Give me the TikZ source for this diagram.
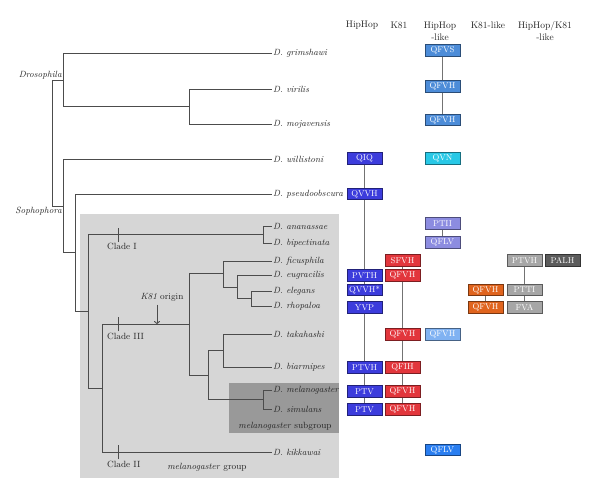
\documentclass[tikz,border=0pt]{standalone}
\usetikzlibrary{arrows.meta}

\definecolor{hhblue}{HTML}{3C3CDC}
\definecolor{kred}{HTML}{E2363C}
\definecolor{steel}{HTML}{4C8CD8}
\definecolor{cyanish}{HTML}{28C8E6}
\definecolor{lav}{HTML}{8C8CE0}
\definecolor{skyish}{HTML}{80B2F2}
\definecolor{azure}{HTML}{2A7EF0}
\definecolor{orng}{HTML}{E0641E}
\definecolor{gry}{HTML}{A6A6A6}
\definecolor{dgry}{HTML}{5C5C5C}

\begin{document}
\begin{tikzpicture}[x=1pt, y=-1pt, font=\fontsize{9}{11}\selectfont,
  branch/.style={draw=black!70, line width=0.9pt},
  leaf/.style={anchor=west, inner sep=1pt, text=black!85,
    font=\fontsize{9}{11}\selectfont\itshape},
  head/.style={align=center, text=black!85, font=\fontsize{9.5}{12}\selectfont},
  seqbox/.style={draw=#1!55!black, fill=#1, text=white, line width=0.6pt,
    minimum width=35pt, minimum height=11.5pt, inner sep=0pt,
    font=\fontsize{8.5}{10}\selectfont},
  link/.style={draw=black!55, line width=0.8pt}]
  \useasboundingbox (0,0) rectangle (600,498);
  \fill[black!16] (80,214) rectangle (339,478);
  \fill[black!40] (229,383) rectangle (339,433);

  \foreach \n/\y/\t in {grim/53/grimshawi, viri/89/virilis, moja/124/mojavensis,
      will/159/willistoni, pseu/194/pseudoobscura, anan/226/ananassae,
      bipe/243/bipectinata, ficu/261/ficusphila, eugr/275/eugracilis,
      eleg/291/elegans, rhop/306/rhopaloa, taka/334/takahashi,
      biar/367/biarmipes, mela/390/melanogaster, simu/409/simulans,
      kikk/452/kikkawai}
    \node[leaf] (\n) at (272,\y) {D. \t};

  \coordinate (root) at (52,143);
  \coordinate (droso) at (63,80);
  \coordinate (virmoj) at (189,106.5);
  \coordinate (sopho) at (63,206);
  \coordinate (pseunode) at (75,252.5);
  \coordinate (melgrp) at (88,311);
  \coordinate (cladeI) at (263,234.5);
  \coordinate (clade23) at (102,388);
  \coordinate (clade3) at (189,324);
  \coordinate (sub1) at (223,273.5);
  \coordinate (sub1b) at (237,287);
  \coordinate (sub1c) at (251,298.5);
  \coordinate (sub2) at (208,375);
  \coordinate (takbia) at (223,350.5);
  \coordinate (melsim) at (263,399.5);

  \foreach \p/\c in {root/droso, root/sopho, droso/grim, droso/virmoj,
      virmoj/viri, virmoj/moja, sopho/will, sopho/pseunode, pseunode/pseu,
      pseunode/melgrp, melgrp/cladeI, melgrp/clade23, cladeI/anan, cladeI/bipe,
      clade23/clade3, clade23/kikk, clade3/sub1, clade3/sub2, sub1/ficu,
      sub1/sub1b, sub1b/eugr, sub1b/sub1c, sub1c/eleg, sub1c/rhop,
      sub2/takbia, sub2/melsim, takbia/taka, takbia/biar, melsim/mela,
      melsim/simu}
    \draw[branch] (\p) |- (\c);

  \node[leaf, anchor=south east] (drosolab) at (droso) {Drosophila};
  \node[leaf, anchor=north east] (sopholab) at (sopho) {Sophophora};

  \foreach \c/\y/\t in {tI/234.5/I, tIII/324/III, tII/452/II} {
    \coordinate (\c) at (118,\y);
    \draw[branch] ([yshift=-7pt]\c) -- ([yshift=7pt]\c);
    \node[anchor=west, inner sep=0pt, text=black!85] (lab\c) at (107,\y+12) {Clade \t};
  }

  \node[text=black!85] (origin) at (162,297) {\textit{K81} origin};
  \coordinate (k81pt) at (157,324);
  \draw[branch, -{To[length=3pt,width=6pt]}] (k81pt |- origin.south) -- (k81pt);

  \node[text=black!85] (sublab) at (285,426) {\textit{melanogaster} subgroup};
  \node[text=black!85] (grplab) at (207,467) {\textit{melanogaster} group};

  \node[head] (hdhh) at (362,25) {HipHop};
  \node[head] (hdk) at (399,25) {K81};
  \node[head] (hdhhl) at (440,31) {HipHop\\-like};
  \node[head] (hdkl) at (488,25) {K81-like};
  \node[head] (hdhk) at (545,31) {HipHop/K81\\-like};

  \foreach \n/\x/\y/\c/\t in {h1/364.5/158.5/hhblue/QIQ, h2/364.5/194/hhblue/QVVH,
      h3/364.5/275.5/hhblue/PVTH, h4/364.5/290/hhblue/QVVH*,
      h5/364.5/307.5/hhblue/YVP, h6/364.5/367.5/hhblue/PTVH,
      h7/364.5/391.5/hhblue/PTV, h8/364.5/409.5/hhblue/PTV,
      k1/402.5/260.5/kred/SFVH, k2/402.5/275.5/kred/QFVH,
      k3/402.5/334.5/kred/QFVH, k4/402.5/367.5/kred/QFIH,
      k5/402.5/391.5/kred/QFVH, k6/402.5/409.5/kred/QFVH,
      l1/442.5/50.5/steel/QFVS, l2/442.5/86.5/steel/QFVH,
      l3/442.5/120/steel/QFVH, l4/442.5/158.5/cyanish/QVN,
      l5/442.5/223.5/lav/PTII, l6/442.5/242.5/lav/QFLV,
      l7/442.5/334.5/skyish/QFVH, l8/442.5/450/azure/QFLV,
      o1/485.5/290/orng/QFVH, o2/485.5/307.5/orng/QFVH,
      g1/524.5/260.5/gry/PTVH, g2/562.5/260.5/dgry/PALH,
      g3/524.5/290/gry/PTTI, g4/524.5/307.5/gry/FVA}
    \node[seqbox=\c] (\n) at (\x,\y) {\t};

  \foreach \a/\b in {h1/h2, h2/h3, h3/h4, h4/h5, h5/h6, h6/h7, h7/h8,
      k1/k2, k2/k3, k3/k4, k4/k5, k5/k6, l1/l2, l2/l3, l5/l6, o1/o2,
      g1/g3, g3/g4}
    \draw[link] (\a) -- (\b);
\end{tikzpicture}
\end{document}
